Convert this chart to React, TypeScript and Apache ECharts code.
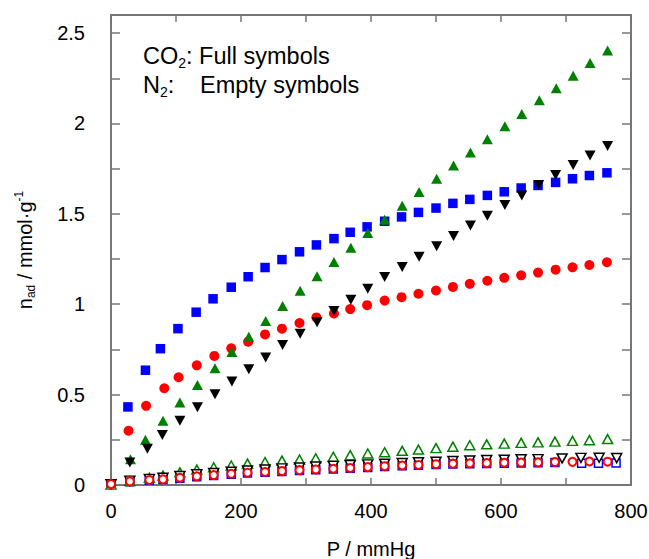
import React, { useEffect, useRef } from "react";
import * as echarts from "echarts";

// ---- Data (P / mmHg, n_ad / mmol·g-1) ----
const co2BlueP = [26, 53, 76, 103, 131, 157, 185, 211, 237, 263, 290, 316, 343, 368, 394, 421, 447, 473, 500, 526, 552, 579, 605, 631, 657, 684, 710, 736, 763];
const co2BlueN = [0.432, 0.635, 0.754, 0.865, 0.956, 1.03, 1.094, 1.152, 1.203, 1.247, 1.29, 1.328, 1.363, 1.398, 1.428, 1.459, 1.483, 1.508, 1.532, 1.558, 1.58, 1.602, 1.622, 1.643, 1.657, 1.674, 1.694, 1.712, 1.727];

const co2RedP = [27, 54, 82, 104, 132, 159, 185, 211, 237, 263, 290, 316, 343, 368, 394, 421, 447, 473, 500, 526, 552, 579, 605, 631, 657, 684, 710, 736, 763];
const co2RedN = [0.3, 0.438, 0.535, 0.596, 0.662, 0.714, 0.756, 0.793, 0.833, 0.865, 0.896, 0.927, 0.949, 0.973, 0.995, 1.02, 1.039, 1.058, 1.076, 1.096, 1.113, 1.13, 1.146, 1.16, 1.175, 1.191, 1.204, 1.217, 1.232];

const co2GreenP = [30, 53, 80, 106, 133, 160, 186, 212, 238, 264, 291, 317, 343, 369, 395, 421, 448, 474, 501, 527, 553, 579, 606, 632, 659, 685, 711, 737, 764];
const co2GreenN = [0.143, 0.25, 0.355, 0.456, 0.553, 0.646, 0.736, 0.82, 0.907, 0.99, 1.074, 1.155, 1.234, 1.313, 1.394, 1.468, 1.545, 1.621, 1.694, 1.768, 1.84, 1.913, 1.985, 2.053, 2.129, 2.195, 2.264, 2.334, 2.404];

const co2BlackP = [29, 56, 79, 106, 133, 160, 186, 212, 238, 264, 291, 317, 343, 369, 395, 421, 448, 474, 501, 527, 553, 579, 606, 632, 658, 684, 711, 737, 764];
const co2BlackN = [0.125, 0.2, 0.276, 0.355, 0.43, 0.502, 0.572, 0.64, 0.705, 0.774, 0.837, 0.9, 0.962, 1.025, 1.085, 1.15, 1.206, 1.262, 1.321, 1.378, 1.435, 1.49, 1.549, 1.602, 1.659, 1.715, 1.77, 1.823, 1.875];

const n2RedP = [0, 29, 59, 80, 106, 132, 158, 185, 210, 237, 263, 290, 315, 342, 368, 395, 421, 448, 473, 500, 526, 552, 578, 605, 631, 657, 683, 710, 736, 764];
const n2RedN = [0.005, 0.02, 0.028, 0.031, 0.04, 0.048, 0.055, 0.062, 0.068, 0.072, 0.077, 0.082, 0.086, 0.09, 0.094, 0.099, 0.104, 0.108, 0.111, 0.115, 0.118, 0.12, 0.121, 0.123, 0.124, 0.125, 0.127, 0.128, 0.13, 0.129];

const n2BlueP = [0, 29, 59, 80, 106, 132, 158, 185, 210, 237, 263, 290, 315, 342, 368, 395, 421, 448, 473, 500, 526, 552, 578, 605, 631, 657, 683, 724, 750, 777];
const n2BlueN = [0.003, 0.018, 0.026, 0.03, 0.038, 0.046, 0.053, 0.06, 0.066, 0.07, 0.075, 0.08, 0.084, 0.088, 0.092, 0.097, 0.102, 0.106, 0.109, 0.113, 0.116, 0.118, 0.119, 0.121, 0.122, 0.123, 0.125, 0.121, 0.121, 0.122];

const n2BlackP = [0, 29, 59, 80, 106, 132, 158, 185, 210, 237, 263, 290, 315, 342, 368, 395, 421, 448, 473, 500, 526, 552, 578, 605, 631, 657, 694, 723, 751, 778];
const n2BlackN = [0.004, 0.024, 0.034, 0.04, 0.05, 0.059, 0.066, 0.073, 0.08, 0.086, 0.092, 0.097, 0.102, 0.106, 0.11, 0.114, 0.118, 0.122, 0.126, 0.129, 0.133, 0.136, 0.138, 0.14, 0.142, 0.143, 0.147, 0.15, 0.151, 0.149];

const n2GreenP = [0, 29, 59, 80, 106, 132, 158, 185, 210, 237, 263, 290, 315, 342, 368, 395, 421, 448, 473, 500, 526, 552, 578, 605, 631, 657, 683, 710, 736, 764];
const n2GreenN = [0.002, 0.022, 0.04, 0.052, 0.07, 0.085, 0.098, 0.108, 0.118, 0.127, 0.135, 0.141, 0.148, 0.156, 0.165, 0.174, 0.181, 0.189, 0.196, 0.204, 0.212, 0.22, 0.225, 0.229, 0.233, 0.236, 0.24, 0.244, 0.248, 0.254];

const FONT = "'Liberation Sans', Arial, sans-serif";
const AXIS_GRAY = "#767676";

const pairs = (xs: number[], ys: number[]) => xs.map((x, i) => [x, ys[i]]);

export default function App() {
  const ref = useRef<HTMLDivElement>(null);

  useEffect(() => {
    if (!ref.current) return;
    const chart = echarts.init(ref.current, undefined, { renderer: "svg" });

    const full = (name: string, xs: number[], ys: number[], color: string, symbol: string, size: any, rotate = 0) => ({
      name,
      type: "scatter",
      data: pairs(xs, ys),
      symbol,
      symbolSize: size,
      symbolRotate: rotate,
      itemStyle: { color, opacity: 1 },
      emphasis: { disabled: true },
    });
    const empty = (name: string, xs: number[], ys: number[], color: string, symbol: string, size: any, bw: number, rotate = 0) => ({
      name,
      type: "scatter",
      data: pairs(xs, ys),
      symbol,
      symbolSize: size,
      symbolRotate: rotate,
      itemStyle: { color: "#ffffff", borderColor: color, borderWidth: bw, opacity: 1 },
      emphasis: { disabled: true },
    });

    const yLabelFmt = (v: number) => {
      const d = v * 2;
      return Math.abs(d - Math.round(d)) < 1e-6 ? String(Math.round(v * 100) / 100) : "";
    };
    const xLabelFmt = (v: number) => (Math.round(v) % 200 === 0 ? String(Math.round(v)) : "");

    const axisLine = { show: true, onZero: false, lineStyle: { color: AXIS_GRAY, width: 2 } };

    const legendRich = {
      a: { fontFamily: FONT, fontSize: 23.5, lineHeight: 28, fill: "#000" },
      s: { fontFamily: FONT, fontSize: 14, lineHeight: 27, verticalAlign: "bottom", fill: "#000" },
    };

    chart.setOption({
      animation: false,
      backgroundColor: "#ffffff",
      textStyle: { fontFamily: FONT },
      grid: { left: 111, right: 18, top: 15, bottom: 74, outerBoundsMode: "none" },
      xAxis: [
        {
          type: "value",
          min: 0,
          max: 800,
          interval: 100,
          position: "bottom",
          name: "P / mmHg",
          nameLocation: "middle",
          nameGap: 54,
          nameTextStyle: { fontFamily: FONT, fontSize: 20, color: "#000" },
          axisLine,
          axisTick: { show: true, inside: true, length: 7, lineStyle: { color: AXIS_GRAY, width: 1.5 } },
          axisLabel: { formatter: xLabelFmt, fontFamily: FONT, fontSize: 20, color: "#000", margin: 16 },
          splitLine: { show: false },
        },
        {
          type: "value",
          min: 0,
          max: 800,
          interval: 100,
          position: "top",
          axisLine,
          axisTick: { show: true, inside: true, length: 7, lineStyle: { color: AXIS_GRAY, width: 1.5 } },
          axisLabel: { show: false },
          splitLine: { show: false },
        },
      ],
      yAxis: [
        {
          type: "value",
          min: 0,
          max: 2.6,
          interval: 0.25,
          position: "left",
          name: "{a|n}{s|ad}{a| / mmol·g}{p|-1}",
          nameLocation: "middle",
          nameGap: 74,
          nameTextStyle: {
            fontFamily: FONT,
            color: "#000",
            rich: {
              a: { fontFamily: FONT, fontSize: 20, lineHeight: 24, color: "#000" },
              s: { fontFamily: FONT, fontSize: 12, lineHeight: 19, verticalAlign: "bottom", color: "#000" },
              p: { fontFamily: FONT, fontSize: 12, lineHeight: 16, verticalAlign: "top", color: "#000" },
            },
          },
          axisLine,
          axisTick: { show: true, inside: true, length: 9, lineStyle: { color: AXIS_GRAY, width: 1.5 } },
          axisLabel: { formatter: yLabelFmt, fontFamily: FONT, fontSize: 20, color: "#000", margin: 26, showMaxLabel: false },
          splitLine: { show: false },
        },
        {
          type: "value",
          min: 0,
          max: 2.6,
          interval: 0.25,
          position: "right",
          axisLine,
          axisTick: { show: true, inside: true, length: 9, lineStyle: { color: AXIS_GRAY, width: 1.5 } },
          axisLabel: { show: false },
          splitLine: { show: false },
        },
      ],
      graphic: [
        {
          type: "text",
          x: 143,
          y: 42,
          style: { text: "{a|CO}{s|2}{a|: Full symbols}", verticalAlign: "top", rich: legendRich },
        },
        {
          type: "text",
          x: 143,
          y: 71,
          style: { text: "{a|N}{s|2}{a|:}", verticalAlign: "top", rich: legendRich },
        },
        {
          type: "text",
          x: 200,
          y: 71,
          style: { text: "{a|Empty symbols}", verticalAlign: "top", rich: legendRich },
        },
      ],
      series: [
        empty("N2 blue", n2BlueP, n2BlueN, "#0000ff", "rect", 8, 1.5),
        empty("N2 green", n2GreenP, n2GreenN, "#008000", "triangle", [10, 9], 1.5),
        empty("N2 black", n2BlackP, n2BlackN, "#000000", "triangle", [10, 9], 1.5, 180),
        empty("N2 red", n2RedP, n2RedN, "#ff0000", "circle", 8, 2),
        full("CO2 blue", co2BlueP, co2BlueN, "#0000ff", "rect", 9.5),
        full("CO2 red", co2RedP, co2RedN, "#ff0000", "circle", 10),
        full("CO2 green", co2GreenP, co2GreenN, "#008000", "triangle", [11, 10]),
        full("CO2 black", co2BlackP, co2BlackN, "#000000", "triangle", [11, 10], 180),
      ],
    });

    return () => chart.dispose();
  }, []);

  return (
    <div
      ref={ref}
      style={{ position: "absolute", left: 0, top: 0, width: 649, height: 559 }}
    />
  );
}
